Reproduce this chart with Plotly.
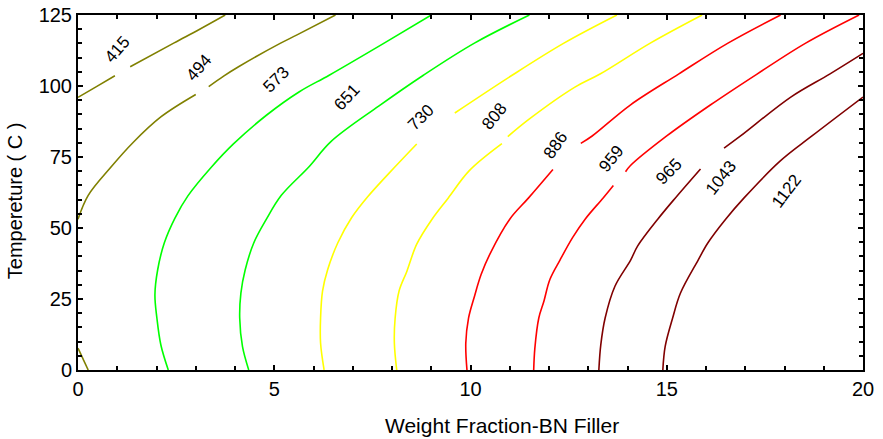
import plotly.graph_objects as go

# Contour levels (labels) and their line colours
levels = ["415", "494", "573", "651", "730", "808", "886", "965", "1043", "1122"]
level_colors = ["#808000", "#808000", "#00ff00", "#00ff00", "#ffff00",
                "#ffff00", "#ff0000", "#ff0000", "#800000", "#800000"]

# Iso-lines: weight fraction (x) vs temperature (y); None marks a label gap
c415_x = [0.0, 0.47, 0.94, None, 1.33, 2.45, 3.1, 3.75]
c415_y = [96.0, 99.8, 103.6, None, 106.8, 115.2, 120.0, 125.0]

c494_x = [0.26, 0.0, None, 0.0, 0.26, 0.83, 1.41, 2.11, 3.0, None, 3.33, 3.71, 4.09, 5.15, 5.58, 6.56]
c494_y = [0.0, 7.7, None, 53.1, 61.5, 71.3, 80.2, 89.1, 97.0, None, 99.8, 103.5, 106.8, 115.0, 118.0, 125.0]

c573_x = [2.30, 2.11, 2.01, 1.96, 2.03, 2.20, 2.47, 2.80, 3.39, 3.96, 4.80, 5.63, 6.40, 7.80, 9.00]
c573_y = [0.0, 8.9, 18.3, 26.5, 35.3, 44.8, 53.5, 61.3, 71.3, 79.6, 89.7, 97.9, 103.8, 115.1, 125.0]

c651_x = [4.35, 4.19, 4.12, 4.15, 4.26, 4.48, 4.80, 5.18, 5.88, 6.45, 7.67, 8.80, 10.10, 11.50]
c651_y = [0.0, 8.3, 18.3, 27.1, 35.3, 44.8, 53.1, 61.5, 71.5, 80.5, 93.0, 103.8, 115.1, 125.0]

c730_x = [6.27, 6.18, 6.18, 6.23, 6.36, 6.62, 6.97, 7.38, 8.06, 8.63, None, 9.60, 11.05, 12.38, 13.73]
c730_y = [0.0, 9.5, 18.3, 27.8, 35.3, 44.8, 53.6, 61.0, 71.3, 79.6, None, 90.5, 103.7, 115.1, 125.0]

c808_x = [8.12, 8.06, 8.08, 8.18, 8.38, 8.63, 9.02, 9.43, 9.97, 10.80, None, 10.95, 11.51, 12.66, 13.30, 14.58, 15.90]
c808_y = [0.0, 9.5, 18.3, 27.8, 34.8, 44.3, 53.1, 60.5, 70.2, 79.7, None, 82.2, 88.5, 99.6, 104.2, 115.1, 125.0]

c886_x = [9.91, 9.88, 9.95, 10.10, 10.27, 10.50, 11.00, 11.48, 12.10, None, 12.81, 13.10, 14.07, 15.30, 16.56, 17.90]
c886_y = [0.0, 9.5, 18.3, 25.9, 33.6, 41.0, 53.1, 60.6, 70.6, None, 79.8, 82.4, 93.3, 104.2, 115.1, 125.0]

c965_x = [11.61, 11.64, 11.74, 11.87, 12.02, 12.28, 12.60, 12.92, 13.38, 13.64, None, 13.95, 14.07, 15.00, 16.11, 17.30, 18.54, 19.90]
c965_y = [0.0, 7.7, 18.3, 24.2, 31.8, 38.7, 46.6, 53.1, 60.6, 65.0, None, 69.8, 71.9, 82.4, 93.3, 104.2, 115.1, 125.0]

c1043_x = [13.27, 13.32, 13.43, 13.68, 14.08, 14.26, 14.77, 15.22, 15.86, None, 16.46, 16.88, 18.16, 19.15, 20.0]
c1043_y = [0.0, 8.9, 18.3, 29.5, 38.7, 43.7, 53.1, 60.6, 70.8, None, 78.1, 82.4, 96.1, 104.2, 111.5]

c1122_x = [14.90, 14.96, 15.15, 15.35, 15.80, 16.05, 16.50, 16.97, 17.90, 18.70, 20.0]
c1122_y = [0.0, 8.3, 18.3, 27.1, 38.7, 44.8, 53.1, 60.6, 73.7, 82.4, 96.1]

line_x = [c415_x, c494_x, c573_x, c651_x, c730_x, c808_x, c886_x, c965_x, c1043_x, c1122_x]
line_y = [c415_y, c494_y, c573_y, c651_y, c730_y, c808_y, c886_y, c965_y, c1043_y, c1122_y]

# Contour label text, position and rotation
label_text = ["415", "494", "573", "651", "730", "808", "886", "959", "965", "1043", "1122"]
label_x = [1.00, 3.09, 5.05, 6.85, 8.74, 10.60, 12.17, 13.59, 15.06, 16.39, 18.04]
label_y = [112.9, 106.4, 102.3, 95.9, 88.8, 89.4, 78.9, 74.5, 69.8, 67.8, 63.0]
label_angle = [-49, -49, -45, -47, -45, -51, -55, -51, -45, -52, -53]

x_ticks = [0, 5, 10, 15, 20]
y_ticks = [0, 25, 50, 75, 100, 125]

x_title = "Weight Fraction-BN Filler"
y_title = "Tempereture ( C )"

FONT = "Liberation Sans, Arial, sans-serif"

fig = go.Figure()
for name, xs, ys, col in zip(levels, line_x, line_y, level_colors):
    fig.add_trace(go.Scatter(x=xs, y=ys, mode="lines", name=name,
                             line=dict(color=col, width=1.6, shape="spline", smoothing=1.0),
                             connectgaps=False, hoverinfo="skip"))

for t, lx, ly, ang in zip(label_text, label_x, label_y, label_angle):
    fig.add_annotation(x=lx, y=ly, text=t, showarrow=False, textangle=ang,
                       font=dict(family=FONT, size=17, color="black"))

# Axis titles placed as paper-anchored text
fig.add_annotation(xref="paper", yref="paper", x=0.540, y=-0.155, text=x_title,
                   showarrow=False, xanchor="center", yanchor="middle",
                   font=dict(family=FONT, size=21, color="black"))
fig.add_annotation(xref="paper", yref="paper", x=-0.080, y=0.476, text=y_title,
                   showarrow=False, textangle=-90, xanchor="center", yanchor="middle",
                   font=dict(family=FONT, size=20, color="black"))

axis_common = dict(
    showline=True, linewidth=2, linecolor="black", mirror="ticks",
    ticks="inside", ticklen=5, tickwidth=1.5, tickcolor="black",
    showgrid=False, zeroline=False, automargin=False,
    tickfont=dict(family=FONT, size=20, color="black"),
)

fig.update_xaxes(range=[0, 20], tickvals=x_ticks,
                 minor=dict(dtick=1, ticks="inside", ticklen=4, tickcolor="black", tickwidth=1.5),
                 **axis_common)
fig.update_yaxes(range=[0, 125], tickvals=y_ticks,
                 minor=dict(dtick=5, ticks="inside", ticklen=4, tickcolor="black", tickwidth=1.5),
                 **axis_common)

fig.update_layout(
    width=883, height=439,
    margin=dict(l=78, r=20, t=15, b=69),
    paper_bgcolor="white", plot_bgcolor="white",
    showlegend=False,
)

fig.write_html("out.html")
